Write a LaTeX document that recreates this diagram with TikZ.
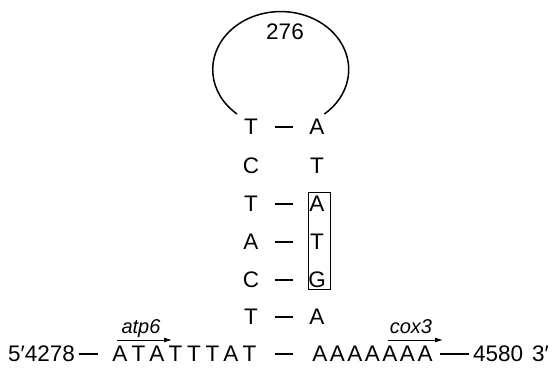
\documentclass[tikz,border=0pt]{standalone}
\usepackage{fontspec}
\setmainfont{Liberation Sans}
\usetikzlibrary{arrows.meta}
\begin{document}
\begin{tikzpicture}[x=1pt,y=-1pt,
  base/.style={font=\fontsize{22.5}{26}\selectfont, inner sep=0pt, anchor=center},
  gene/.style={font=\fontsize{20}{24}\selectfont\itshape, inner sep=0pt, anchor=base},
  bond/.style={line width=1.8pt, shorten <=24pt, shorten >=24pt},
  genearrow/.style={line width=0.9pt, -{Latex[length=8pt,width=5pt]}},
  loopline/.style={line width=1.5pt}]
\useasboundingbox (0,0) rectangle (552,371);
% stem
\foreach \i/\y/\a/\b in {1/127/T/A,2/166/C/T,3/204/T/A,4/242/A/T,5/280/C/G,6/317/T/A}{
  \node[base] (l\i) at (251,\y) {\a};
  \node[base] (r\i) at (317,\y) {\b};
}
\foreach \i in {1,3,4,5,6}{\draw[bond] (l\i.center) -- (r\i.center);}
% box
\node[draw, line width=1pt, minimum width=22pt, minimum height=97pt, inner sep=0pt] (box) at (319,241.5) {};
% loop
\coordinate (loopL) at (237,114);
\draw[loopline] (loopL) arc[start angle=130, end angle=410, x radius=68, y radius=58];
\node[base] (n276) at (285,32) {276};
% bottom row
\node[base, anchor=west] (five) at (8,354) {5′4278};
\foreach \i/\c in {1/A,2/T,3/A,4/T,5/T,6/T,7/A,8/T}{
  \node[base] (b\i) at ({120+18.5*(\i-1)},354) {\c};
}
\foreach \i in {1,...,7}{
  \node[base] (c\i) at ({320+17.5*(\i-1)},354) {A};
}
\node[base, anchor=west] (end) at (473,354) {4580};
\node[base, anchor=west] (three) at (532,354) {3′};
\draw[line width=1.8pt, shorten <=4pt, shorten >=22pt] (five.east) -- (b1.center);
\draw[line width=1.8pt, shorten <=25.5pt, shorten >=27pt] (b8.center) -- (c1.center);
\draw[line width=1.8pt, shorten <=15pt, shorten >=4pt] (c7.center) -- (end.west);
% genes
\node[gene] (atp) at (141,334) {atp6};
\coordinate (atpS) at (117,340);
\coordinate (atpE) at (172,340);
\draw[genearrow] (atpS) -- (atpE);
\node[gene] (cox) at (411,334) {cox3};
\coordinate (coxS) at (388,340);
\coordinate (coxE) at (443,340);
\draw[genearrow] (coxS) -- (coxE);
\end{tikzpicture}
\end{document}
